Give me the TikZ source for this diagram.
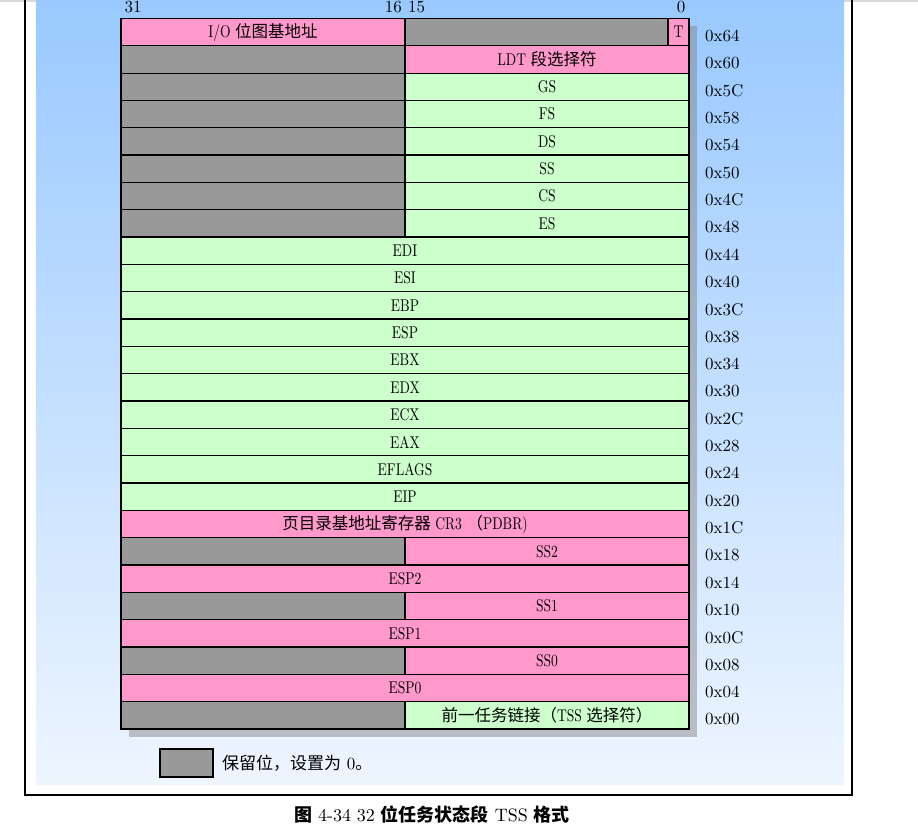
\documentclass[tikz,border=0pt]{standalone}
\usepackage{fontspec}
\setmainfont{lmroman10-regular.otf}
\newfontfamily\cjk{Noto Sans CJK SC}
\newfontfamily\narrow{lmroman10-regular.otf}[FakeStretch=0.8]
\definecolor{pnk}{RGB}{255,153,204}
\definecolor{grn}{RGB}{204,255,204}
\definecolor{gry}{RGB}{153,153,153}
\definecolor{paneltop}{RGB}{153,201,255}
\definecolor{panelbot}{RGB}{238,245,255}
\begin{document}
\begin{tikzpicture}[x=1pt,y=-1pt,
  cell/.style={draw=black, line width=1.3pt, inner sep=0pt, outer sep=0pt,
    minimum height=27.33pt, anchor=north west,
    font=\fontsize{17}{19}\selectfont\narrow},
  half/.style={cell, minimum width=284pt},
  full/.style={cell, minimum width=568pt},
  offs/.style={anchor=west, inner sep=0pt, font=\fontsize{17}{19}\selectfont},
  bitl/.style={inner sep=0pt, font=\fontsize{17}{19}\selectfont}]
\useasboundingbox (0,0) rectangle (918,826);
% page background pieces
\fill[gray!30] (0,0) rectangle (918,2);
\shade[top color=paneltop, bottom color=panelbot] (36,0) rectangle (844,784);
\draw[line width=2pt] (25,0) -- (25,795) -- (852,795) -- (852,0);
% shadow
\fill[gray, opacity=0.45] (129,26.5) rectangle (697,737);
% bit numbers
\node[bitl, anchor=base] (b31) at (133,13) {31};
\node[bitl, anchor=base east] (b16) at (402,13) {16};
\node[bitl, anchor=base west] (b15) at (408,13) {15};
\node[bitl, anchor=base] (b0) at (681,13) {0};
% row 0
\node[half, fill=pnk] (L0) at (121,18.5) {I/O {\cjk\fontsize{16.5}{18}\selectfont 位图基地址}};
\node[cell, fill=gry, minimum width=263pt] (R0) at (405,18.5) {};
\node[cell, fill=pnk, minimum width=21pt] (T0) at (668,18.5) {T};
% split rows
\foreach \i/\col/\txt in {
  1/pnk/{LDT {\cjk\fontsize{16.5}{18}\selectfont 段选择符}},
  2/grn/GS, 3/grn/FS, 4/grn/DS, 5/grn/SS, 6/grn/CS, 7/grn/ES,
  19/pnk/SS2, 21/pnk/SS1, 23/pnk/SS0,
  25/grn/{{\cjk\fontsize{16.5}{18}\selectfont 前一任务链接（}TSS {\cjk\fontsize{16.5}{18}\selectfont 选择符）}}}{
  \node[half, fill=gry] (L\i) at (121, 18.5+\i*27.33) {};
  \node[half, fill=\col] (R\i) at (405, 18.5+\i*27.33) {\txt};
}
% full rows
\foreach \i/\col/\txt in {
  8/grn/EDI, 9/grn/ESI, 10/grn/EBP, 11/grn/ESP, 12/grn/EBX, 13/grn/EDX,
  14/grn/ECX, 15/grn/EAX, 16/grn/EFLAGS, 17/grn/EIP,
  18/pnk/{{\cjk\fontsize{16.5}{18}\selectfont 页目录基地址寄存器} CR3 {\cjk\fontsize{16.5}{18}\selectfont （}PDBR)},
  20/pnk/ESP2, 22/pnk/ESP1, 24/pnk/ESP0}{
  \node[full, fill=\col] (F\i) at (121, 18.5+\i*27.33) {\txt};
}
% offsets
\foreach \i/\off in {0/0x64, 1/0x60, 2/0x5C, 3/0x58, 4/0x54, 5/0x50, 6/0x4C,
  7/0x48, 8/0x44, 9/0x40, 10/0x3C, 11/0x38, 12/0x34, 13/0x30, 14/0x2C,
  15/0x28, 16/0x24, 17/0x20, 18/0x1C, 19/0x18, 20/0x14, 21/0x10, 22/0x0C,
  23/0x08, 24/0x04, 25/0x00}{
  \node[offs] (O\i) at (705, 18.5+\i*27.33+17.5) {\off};
}
% legend
\node[cell, fill=gry, minimum width=53pt, minimum height=28pt] (leg) at (160,749) {};
\node[anchor=west, inner sep=0pt, font=\fontsize{17}{19}\selectfont] (legt) at (222,763.5)
  {{\cjk\fontsize{17}{19}\selectfont 保留位，设置为} 0{\cjk\fontsize{17}{19}\selectfont 。}};
% caption
\node[inner sep=0pt, font=\fontsize{18}{20}\selectfont] (cap) at (432,815)
  {{\cjk\bfseries 图} 4-34 32 {\cjk\bfseries 位任务状态段} TSS {\cjk\bfseries 格式}};
\end{tikzpicture}
\end{document}
